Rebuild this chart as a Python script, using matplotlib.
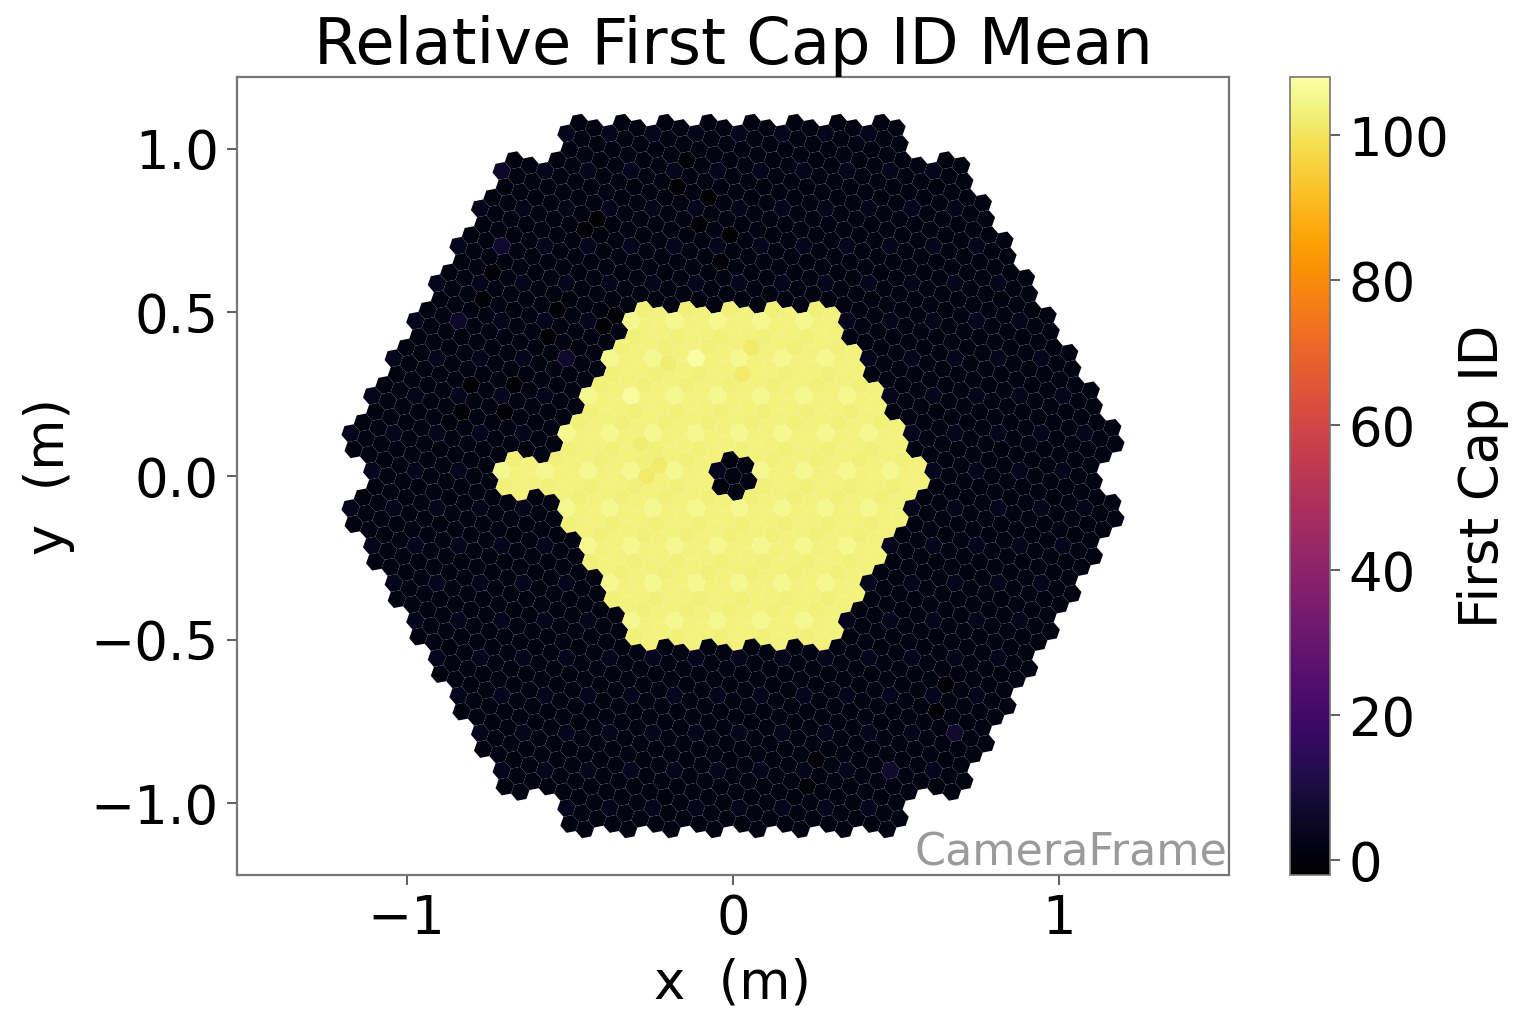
import numpy as np
import matplotlib
matplotlib.use("Agg")
import matplotlib.pyplot as plt
from matplotlib.collections import PolyCollection

# Camera layout: modules per row, top to bottom (7 pixels per module)
module_row_counts = [8, 11, 12, 13, 14, 15, 16, 17, 18, 17, 18, 17, 16, 15, 14, 13, 12, 11, 8]
pixel_pitch = 0.05
pixel_angle_deg = -19.1

# Modules with the high value, as (row, first column, last column) in the lists above
high_module_spans = [(5, 5, 9), (6, 5, 10), (7, 5, 11), (8, 5, 12), (9, 3, 12), (10, 5, 12),
                     (11, 5, 11), (12, 5, 10), (13, 5, 9)]
low_modules_inside = [(9, 8)]

# First Cap ID by position inside a module: centre, then 6 neighbours
low_level_by_position = [1.5, 1.5, 1.5, 1.0, 3.5, 1.0, 1.5]
high_level_by_position = [103.5, 103.5, 103.5, 103.0, 105.0, 103.0, 103.5]

# Individually read pixels: (row, column, position, value)
pixel_overrides = [
    (2, 2, 6, -1.0), (2, 2, 1, -1.0), (1, 4, 3, -1.0), (1, 4, 5, -1.0), (2, 5, 3, -1.0), (2, 5, 5, -1.0),
    (5, 3, 3, -1.0), (5, 3, 5, -1.0), (4, 1, 3, -1.0), (4, 1, 5, -1.0), (7, 2, 3, -1.0), (7, 2, 5, -1.0),
    (7, 3, 3, -1.0), (7, 3, 5, -1.0), (5, 4, 0, -1.0), (5, 4, 2, -1.0), (3, 6, 3, -1.0), (3, 6, 5, -1.0),
    (17, 7, 3, -1.0), (17, 7, 5, -1.0), (15, 11, 3, -1.0), (15, 11, 5, -1.0),
    (6, 4, 4, 7.0), (3, 1, 4, 7.0), (5, 1, 4, 6.0), (1, 0, 4, 6.0), (16, 11, 4, 7.0), (17, 9, 4, 7.0),
    (6, 8, 3, 101.5), (6, 8, 5, 101.5), (9, 6, 2, 101.5), (9, 6, 0, 101.5), (8, 6, 1, 102.0),
    (6, 6, 0, 102.0), (6, 7, 4, 107.5), (7, 6, 4, 107.0),
]

row_ticks = [-1.0, -0.5, 0.0, 0.5, 1.0]
col_ticks = [-1, 0, 1]
cbar_ticks = [0, 20, 40, 60, 80, 100]
value_min, value_max = -2, 108

fig = plt.figure(figsize=(15.19, 10.13), dpi=100)
W, H = 1519, 1013
ax = fig.add_axes([237 / W, 1 - 875 / H, (1229 - 237) / W, (875 - 77) / H])
cax = fig.add_axes([1290 / W, 1 - 875 / H, 40 / W, (875 - 77) / H])

module_pitch = pixel_pitch * np.sqrt(7)
theta = np.deg2rad(pixel_angle_deg)
offsets = [(0.0, 0.0)] + [(pixel_pitch * np.cos(theta + k * np.pi / 3),
                           pixel_pitch * np.sin(theta + k * np.pi / 3)) for k in range(6)]
hex_r = pixel_pitch / np.sqrt(3)
hex_verts = np.array([(hex_r * np.cos(theta + np.pi / 6 + k * np.pi / 3),
                       hex_r * np.sin(theta + np.pi / 6 + k * np.pi / 3)) for k in range(6)])

high = {(r, c) for r, a, b in high_module_spans for c in range(a, b + 1)} - set(low_modules_inside)
over = {(r, c, p): v for r, c, p, v in pixel_overrides}

verts, vals = [], []
for r, n in enumerate(module_row_counts):
    y0 = (9 - r) * module_pitch * np.sqrt(3) / 2
    for c in range(n):
        x0 = (c - (n - 1) / 2) * module_pitch
        for p, (dx, dy) in enumerate(offsets):
            verts.append(hex_verts + (x0 + dx, y0 + dy))
            lev = high_level_by_position if (r, c) in high else low_level_by_position
            vals.append(over.get((r, c, p), lev[p]))

pc = PolyCollection(verts, array=np.array(vals), cmap="inferno", edgecolors="none", antialiaseds=True)
pc.set_clim(value_min, value_max)
ax.add_collection(pc)
ax.set_xlim(-1.52, 1.52)
ax.set_ylim(-1.22, 1.22)

fs = 38
ax.set_title("Relative First Cap ID Mean", fontsize=46, pad=6)
ax.set_xlabel("x  (m)", fontsize=fs, labelpad=9)
ax.set_ylabel("y  (m)", fontsize=fs, labelpad=11)
ax.set_xticks(col_ticks)
ax.set_yticks(row_ticks)
ax.tick_params(labelsize=fs, length=7, width=1.2, color="#444444", pad=6)
for s in ax.spines.values():
    s.set_color("#777777")
    s.set_linewidth(1.6)

ax.text(0.998, 0.0, "CameraFrame", transform=ax.transAxes, ha="right", va="bottom",
        fontsize=32, color="#9a9a9a")

cb = fig.colorbar(pc, cax=cax)
cb.set_ticks(cbar_ticks)
cb.ax.tick_params(labelsize=fs, length=7, width=1.2, color="#444444", pad=6)
cb.set_label("First Cap ID", fontsize=fs, labelpad=6)
cb.outline.set_edgecolor("#777777")
cb.outline.set_linewidth(1.2)

fig.savefig("out.png", dpi=100)
